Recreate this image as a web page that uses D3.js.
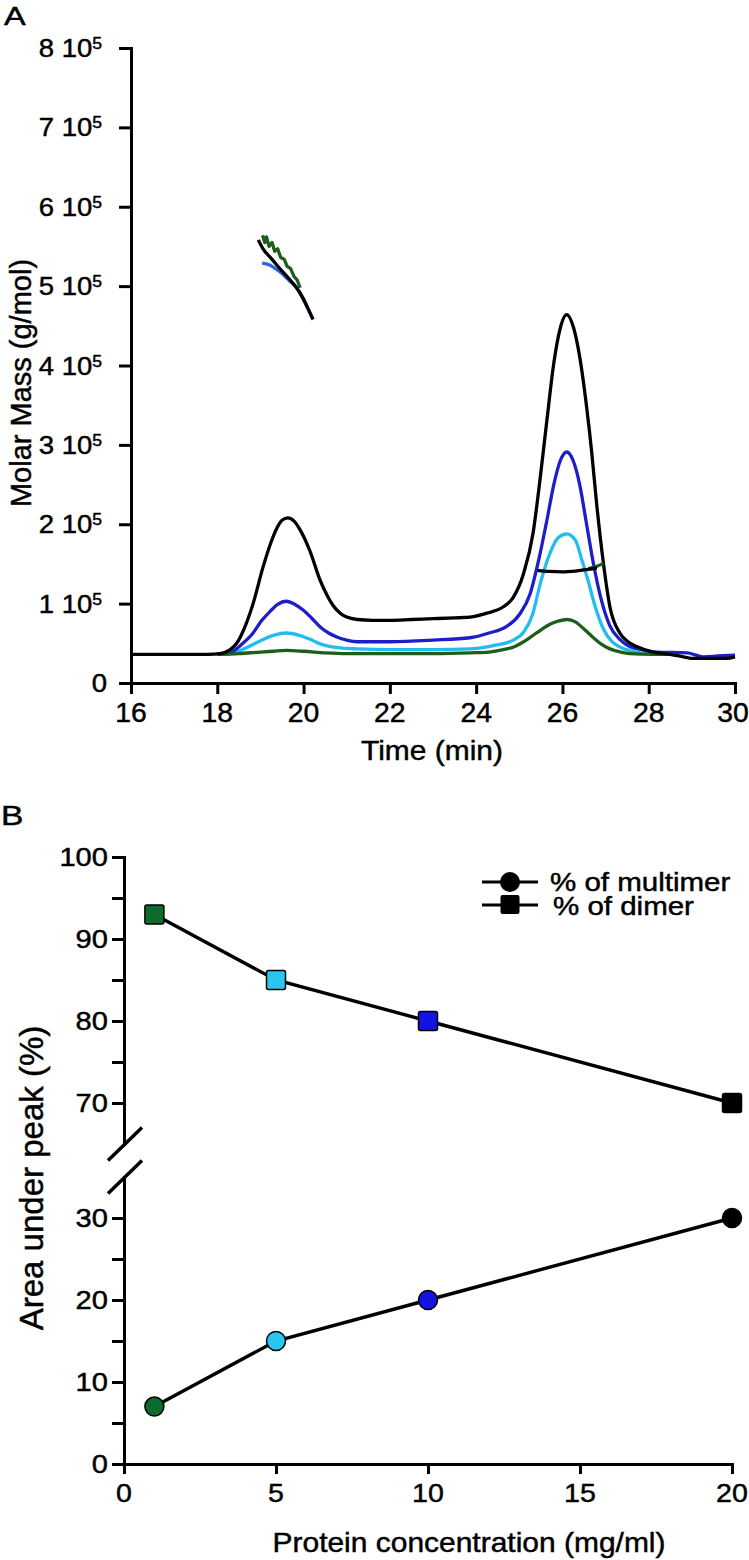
<!DOCTYPE html>
<html><head><meta charset="utf-8">
<script src="https://cdn.jsdelivr.net/npm/d3@7"></script>
<style>
body{margin:0;background:#fff}
svg{display:block}
text{font-family:"Liberation Sans",Arial,Helvetica,sans-serif;fill:#000;stroke:#000;stroke-width:0.45px}
</style>
</head><body>
<svg id="c" width="749" height="1560"></svg>
<script>
// ---------- Panel A data (signal, in units of 1e5 g/mol axis) ----------
const timeTicksA = [16,18,20,22,24,26,28,30];
const massTicksA = [0,1,2,3,4,5,6,7,8];

const traceBlack = [[16,0.36],[17,0.36],[17.8,0.36],[18.06,0.37],[18.3,0.42],[18.45,0.50],[18.65,0.72],[18.83,1.0],[19.06,1.46],[19.25,1.78],[19.38,1.95],[19.5,2.05],[19.64,2.08],[19.78,2.04],[19.92,1.93],[20.15,1.66],[20.38,1.30],[20.55,1.10],[20.68,0.98],[20.85,0.88],[21.0,0.83],[21.24,0.80],[21.6,0.79],[22,0.79],[22.5,0.80],[23,0.81],[23.5,0.82],[23.86,0.83],[24.25,0.88],[24.63,0.96],[24.86,1.08],[25.1,1.38],[25.32,1.89],[25.48,2.56],[25.64,3.31],[25.8,4.03],[25.94,4.45],[26.1,4.64],[26.25,4.49],[26.4,4.11],[26.56,3.48],[26.68,2.9],[26.8,2.22],[26.95,1.51],[27.1,0.96],[27.33,0.63],[27.52,0.52],[27.72,0.46],[28.1,0.39],[28.5,0.36],[28.8,0.33],[29.0,0.31],[29.8,0.31],[30,0.33]];
const traceBlue = [[18.0,0.36],[18.3,0.38],[18.55,0.48],[18.83,0.63],[19.02,0.78],[19.22,0.9],[19.4,0.99],[19.6,1.03],[19.8,0.99],[19.99,0.92],[20.2,0.81],[20.38,0.71],[20.58,0.63],[20.77,0.58],[21.0,0.54],[21.24,0.52],[22,0.52],[23,0.54],[23.86,0.57],[24.3,0.63],[24.7,0.71],[25.0,0.86],[25.25,1.12],[25.45,1.55],[25.64,2.05],[25.8,2.5],[25.95,2.8],[26.1,2.91],[26.25,2.8],[26.4,2.5],[26.56,2.0],[26.72,1.5],[26.9,1.05],[27.1,0.72],[27.33,0.55],[27.56,0.46],[27.85,0.42],[28.18,0.39],[28.9,0.38],[29.1,0.35],[29.27,0.33],[29.6,0.34],[30,0.35]];
const traceCyan = [[18.2,0.36],[18.45,0.39],[18.7,0.45],[18.99,0.53],[19.3,0.60],[19.6,0.63],[19.9,0.60],[20.15,0.55],[20.4,0.49],[20.6,0.46],[20.9,0.44],[21.24,0.43],[22,0.42],[23,0.42],[23.86,0.43],[24.48,0.48],[24.86,0.54],[25.1,0.64],[25.3,0.85],[25.5,1.28],[25.7,1.62],[25.9,1.83],[26.1,1.88],[26.3,1.8],[26.45,1.55],[26.6,1.28],[26.75,0.98],[26.95,0.68],[27.15,0.52],[27.35,0.45],[27.7,0.39],[28.1,0.37],[28.6,0.37]];
const traceGreen = [[18.0,0.36],[18.5,0.37],[19.0,0.39],[19.3,0.40],[19.6,0.41],[20.0,0.40],[20.5,0.38],[21,0.37],[22,0.37],[23,0.37],[23.86,0.38],[24.3,0.39],[24.63,0.42],[24.9,0.46],[25.1,0.52],[25.4,0.63],[25.71,0.74],[25.9,0.78],[26.1,0.80],[26.3,0.77],[26.5,0.68],[26.72,0.57],[26.9,0.49],[27.1,0.43],[27.35,0.39],[27.56,0.37],[28.1,0.36],[28.6,0.36]];

// molar mass traces
const massBlue1  = [[19.04,5.29],[19.2,5.27],[19.45,5.18],[19.65,5.08],[19.85,4.97],[20.0,4.84],[20.1,4.72],[20.2,4.6]];
const massGreen1 = [[19.05,5.64],[19.1,5.55],[19.14,5.62],[19.2,5.5],[19.27,5.55],[19.33,5.44],[19.4,5.47],[19.47,5.36],[19.55,5.34],[19.62,5.25],[19.7,5.22],[19.78,5.12],[19.85,5.08],[19.92,4.98]];
const massBlack1 = [[18.95,5.58],[19.06,5.47],[19.25,5.35],[19.45,5.22],[19.65,5.1],[19.85,4.97],[20.0,4.83],[20.1,4.72],[20.22,4.58]];
const massBlack2 = [[25.42,1.42],[25.7,1.405],[26.0,1.40],[26.3,1.41],[26.6,1.43],[26.8,1.45]];
const massGreen2 = [[26.6,1.44],[26.8,1.47],[26.95,1.51]];

// ---------- Panel B data ----------
const concentrations = [1,5,10,20];
const dimerPct = [93,85,80,70];
const multimerPct = [7,15,20,30];
const concColors = ["#0d6b2c","#29c6f0","#1414e0","#000000"];
const concTicks = [0,5,10,15,20];
const upperTicks = [70,75,80,85,90,95,100];
const upperLabels = [70,80,90,100];
const lowerTicks = [0,5,10,15,20,25,30];
const lowerLabels = [0,10,20,30];

const svg = d3.select("#c");

function stext(g, x, y, str, size, anchor, sx) {
  return g.append("text")
    .attr("transform", `translate(${x},${y}) scale(${sx},1)`)
    .attr("text-anchor", anchor)
    .style("font-size", size + "px")
    .text(str);
}
function styleAxis(g) {
  g.select(".domain").attr("stroke","#000").attr("stroke-width",3).attr("stroke-linecap","square");
  g.selectAll(".tick line").attr("stroke","#000").attr("stroke-width",3);
  g.selectAll(".tick text").remove();
}

// ================= Panel A =================
const xA = d3.scaleLinear().domain([16,30]).range([131,735]);
const yA = d3.scaleLinear().domain([0,8]).range([683,48]);

stext(svg, 4, 25, "A", 25, "start", 1.3);

const gAx = svg.append("g").attr("transform","translate(0,683)")
  .call(d3.axisBottom(xA).tickValues(timeTicksA).tickSize(11).tickSizeOuter(0).tickFormat(""));
styleAxis(gAx);
timeTicksA.forEach(t => stext(svg, t === 30 ? xA(t) - 2 : xA(t), 722, String(t), 27, "middle", 1.05));

const gAy = svg.append("g").attr("transform","translate(131,0)")
  .call(d3.axisLeft(yA).tickValues(massTicksA).tickSize(12).tickSizeOuter(0).tickFormat(""));
styleAxis(gAy);
massTicksA.forEach(v => {
  const y = yA(v) + 9;
  if (v === 0) {
    stext(svg, 107, y, "0", 25, "end", 1.1);
  } else {
    const t = svg.append("text")
      .attr("transform", `translate(102,${y}) scale(1.1,1)`)
      .attr("text-anchor","end")
      .style("font-size","25px");
    t.append("tspan").text(v + " 10");
    t.append("tspan").attr("dy",-8).style("font-size","16px").text("5");
  }
});

svg.append("text")
  .attr("transform", `translate(31,383) rotate(-90)`)
  .attr("text-anchor","middle").style("font-size","29px")
  .text("Molar Mass (g/mol)");
stext(svg, 432, 760, "Time (min)", 28, "middle", 1.07);

const lineA = d3.line().x(d => xA(d[0])).y(d => yA(d[1])).curve(d3.curveMonotoneX);
const lineAlin = d3.line().x(d => xA(d[0])).y(d => yA(d[1]));
const traces = [
  [traceCyan, "#22bdf0", lineA],
  [traceBlue, "#1e1ec8", lineA],
  [traceGreen, "#1d5e1d", lineA],
  [traceBlack, "#000000", lineA],
  [massBlue1, "#2f62ea", lineA],
  [massGreen1, "#1d5e1d", lineAlin],
  [massBlack1, "#000000", lineA],
  [massGreen2, "#1d5e1d", lineA],
  [massBlack2, "#000000", lineA]
];
traces.forEach(([data, color, gen]) => {
  svg.append("path").datum(data)
    .attr("fill","none").attr("stroke",color).attr("stroke-width",3.3)
    .attr("stroke-linejoin","round").attr("d", gen);
});

// ================= Panel B =================
const xB = d3.scaleLinear().domain([0,20]).range([124,732]);
const yBU = d3.scaleLinear().domain([65,100]).range([1144,857]);
const yBL = d3.scaleLinear().domain([0,35]).range([1464,1177]);

stext(svg, 1, 825, "B", 28, "start", 1.2);

const gBx = svg.append("g").attr("transform","translate(0,1464)")
  .call(d3.axisBottom(xB).tickValues(concTicks).tickSize(10).tickSizeOuter(0).tickFormat(""));
styleAxis(gBx);
concTicks.forEach(c => stext(svg, xB(c), 1502, String(c), 26, "middle", 1.1));

const gBu = svg.append("g").attr("transform","translate(124,0)")
  .call(d3.axisLeft(yBU).tickValues(upperTicks).tickSize(12).tickSizeOuter(0).tickFormat(""));
styleAxis(gBu);
upperLabels.forEach(v => stext(svg, 108, yBU(v) + 9, String(v), 26, "end", 1.12));

const gBl = svg.append("g").attr("transform","translate(124,0)")
  .call(d3.axisLeft(yBL).tickValues(lowerTicks).tickSize(12).tickSizeOuter(0).tickFormat(""));
styleAxis(gBl);
lowerLabels.forEach(v => stext(svg, 108, yBL(v) + 9, String(v), 26, "end", 1.12));

// axis break marks
[yBU(65), yBL(35)].forEach(yc => {
  svg.append("line").attr("x1",108).attr("y1",yc+16.5).attr("x2",142).attr("y2",yc-16.5)
    .attr("stroke","#000").attr("stroke-width",3.5);
});

svg.append("text")
  .attr("transform", `translate(43,1178) rotate(-90)`)
  .attr("text-anchor","middle").style("font-size","33px")
  .text("Area under peak (%)");
stext(svg, 469, 1552, "Protein concentration (mg/ml)", 27, "middle", 1.11);

const dimerPts = concentrations.map((c,i) => [xB(c), yBU(dimerPct[i]), concColors[i]]);
const multPts = concentrations.map((c,i) => [xB(c), yBL(multimerPct[i]), concColors[i]]);
const lineB = d3.line().x(d => d[0]).y(d => d[1]);
[dimerPts, multPts].forEach(p => svg.append("path").attr("d", lineB(p))
  .attr("fill","none").attr("stroke","#000").attr("stroke-width",3.4));

svg.selectAll(".sq").data(dimerPts).enter().append("rect")
  .attr("x", d => d[0]-9.5).attr("y", d => d[1]-9.5).attr("width",19).attr("height",19).attr("rx",2)
  .attr("fill", d => d[2]).attr("stroke","#000").attr("stroke-width",1.5);
svg.selectAll(".ci").data(multPts).enter().append("circle")
  .attr("cx", d => d[0]).attr("cy", d => d[1]).attr("r",9.5)
  .attr("fill", d => d[2]).attr("stroke","#000").attr("stroke-width",1.5);

// legend
const leg = svg.append("g");
leg.append("line").attr("x1",482).attr("x2",538).attr("y1",882).attr("y2",882).attr("stroke","#000").attr("stroke-width",3);
leg.append("circle").attr("cx",510).attr("cy",882).attr("r",10).attr("fill","#000");
leg.append("line").attr("x1",482).attr("x2",538).attr("y1",905).attr("y2",905).attr("stroke","#000").attr("stroke-width",3);
leg.append("rect").attr("x",500.5).attr("y",895).attr("width",19).attr("height",19).attr("rx",2).attr("fill","#000");
stext(leg, 550, 891, "% of multimer", 25, "start", 1.18);
stext(leg, 553, 915, "% of dimer", 25, "start", 1.18);
</script>
</body></html>
